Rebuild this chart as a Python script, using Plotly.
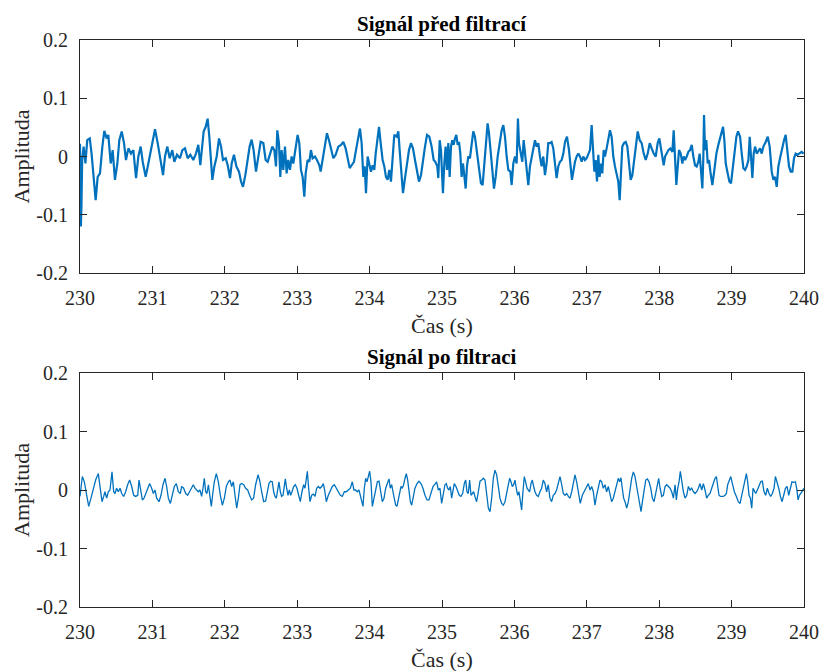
import plotly.graph_objects as go

# Raw signal: time (s) and amplitude
raw_t = [
    230.000, 230.006, 230.012, 230.020, 230.030, 230.050, 230.075, 230.100, 230.135, 230.160,
    230.184, 230.216, 230.244, 230.276, 230.309, 230.336, 230.368, 230.391, 230.424, 230.451,
    230.483, 230.516, 230.543, 230.576, 230.608, 230.635, 230.668, 230.704, 230.737, 230.774,
    230.806, 230.838, 230.866, 230.907, 230.944, 230.990, 231.036, 231.073, 231.110, 231.147,
    231.174, 231.206, 231.239, 231.275, 231.303, 231.340, 231.381, 231.414, 231.450, 231.487,
    231.524, 231.565, 231.602, 231.634, 231.662, 231.690, 231.708, 231.736, 231.763, 231.786,
    231.809, 231.828, 231.856, 231.888, 231.920, 231.948, 231.975, 232.012, 232.040, 232.072,
    232.095, 232.127, 232.160, 232.196, 232.224, 232.251, 232.284, 232.316, 232.343, 232.371,
    232.398, 232.431, 232.463, 232.495, 232.532,
    232.564, 232.592, 232.624, 232.656, 232.684, 232.707, 232.725, 232.748, 232.767, 232.785,
    232.808, 232.831, 232.854, 232.877, 232.900, 232.923, 232.946, 232.979, 233.006, 233.029,
    233.052, 233.075, 233.098, 233.117, 233.144, 233.167, 233.190, 233.213, 233.246, 233.273,
    233.306, 233.324, 233.352, 233.384, 233.411, 233.439, 233.467, 233.499, 233.531, 233.568,
    233.605, 233.637, 233.669, 233.697, 233.725, 233.752, 233.784, 233.812, 233.844, 233.867,
    233.890, 233.913, 233.932, 233.950, 233.973, 233.992, 234.019, 234.042, 234.065, 234.084,
    234.107, 234.130, 234.153, 234.180, 234.203, 234.226, 234.249, 234.272, 234.295, 234.318,
    234.341, 234.374, 234.397, 234.415, 234.443, 234.461, 234.489, 234.516, 234.544, 234.572,
    234.599, 234.627, 234.655, 234.682, 234.710, 234.737, 234.765, 234.793, 234.825, 234.857,
    234.885, 234.908, 234.935, 234.949, 234.968, 234.986, 235.013, 235.032,
    235.050, 235.069, 235.087, 235.106, 235.124, 235.142, 235.161, 235.179, 235.198, 235.216,
    235.235, 235.253, 235.271, 235.290, 235.308, 235.327, 235.345, 235.363, 235.386, 235.409,
    235.432, 235.455, 235.483, 235.511, 235.538, 235.561, 235.584, 235.607, 235.630, 235.649,
    235.672, 235.695, 235.718, 235.741, 235.769, 235.796, 235.824, 235.847, 235.870, 235.893,
    235.916, 235.944, 235.962, 235.985, 236.008, 236.031, 236.049, 236.063, 236.086, 236.109,
    236.128, 236.146, 236.174, 236.192, 236.215, 236.238, 236.261, 236.284, 236.307, 236.330,
    236.353, 236.376, 236.399, 236.422, 236.445, 236.468, 236.491, 236.514, 236.537, 236.560,
    236.583, 236.606, 236.630, 236.653, 236.676, 236.699, 236.726, 236.754, 236.777, 236.795,
    236.814, 236.837, 236.860, 236.883, 236.906, 236.929, 236.952, 236.975, 236.998, 237.021,
    237.044, 237.067, 237.085, 237.104, 237.122, 237.141, 237.159, 237.177, 237.196, 237.214,
    237.233, 237.251, 237.274, 237.297, 237.320, 237.343, 237.366, 237.389, 237.412, 237.435,
    237.454, 237.472, 237.490, 237.514,
    237.537, 237.560, 237.583, 237.606, 237.629, 237.657, 237.680, 237.703, 237.731, 237.758,
    237.786, 237.814, 237.841, 237.869, 237.896, 237.924, 237.952, 237.979, 238.002, 238.021,
    238.044, 238.062, 238.081, 238.104, 238.127, 238.154, 238.182, 238.200, 238.219, 238.237,
    238.256, 238.274, 238.297, 238.320, 238.338, 238.357, 238.380, 238.403, 238.426, 238.449,
    238.472, 238.495, 238.518, 238.541, 238.559, 238.578, 238.596, 238.610, 238.619, 238.633,
    238.651, 238.670, 238.688, 238.707, 238.734, 238.762, 238.790, 238.817, 238.845, 238.863,
    238.882, 238.900, 238.919, 238.946, 238.969, 238.992, 239.015, 239.038, 239.066, 239.089,
    239.117, 239.140, 239.163, 239.186, 239.209, 239.232, 239.250, 239.268, 239.287, 239.305,
    239.324, 239.347, 239.370, 239.393, 239.416, 239.439, 239.471, 239.499, 239.526, 239.554,
    239.577, 239.600, 239.623, 239.646, 239.674, 239.701, 239.724, 239.747, 239.770, 239.793,
    239.816, 239.839, 239.862, 239.885, 239.913, 239.941, 239.968, 239.996,
]
raw_v = [
    0.022, -0.070, -0.120, -0.085, -0.006, 0.017, -0.012, 0.028, 0.031, 0.005,
    -0.035, -0.075, -0.035, -0.029, 0.017, 0.044, 0.031, 0.037, -0.012, 0.011,
    -0.040, -0.012, 0.028, 0.043, 0.023, -0.006, 0.014, 0.005, 0.011, -0.037,
    0.000, 0.017, -0.009, -0.035, -0.012, 0.017, 0.047, 0.023, -0.006, -0.032,
    0.000, 0.017, -0.003, 0.011, -0.009, 0.003, -0.003, 0.011, 0.014, -0.003,
    0.003, -0.006, 0.005, 0.020, -0.015, 0.028, 0.043, 0.051, 0.065, 0.034,
    -0.017, -0.040, -0.017, 0.000, 0.031, 0.017, -0.006, -0.003, -0.015, -0.037,
    -0.012, 0.003, -0.017, -0.026, -0.043, -0.052, -0.032, -0.003, 0.017, 0.029,
    0.011, -0.026, -0.003, 0.025, 0.023,
    -0.006, -0.009, 0.005, 0.017, 0.011, -0.017, 0.045, 0.023, -0.035, 0.011,
    -0.023, 0.017, -0.029, -0.006, -0.023, 0.000, -0.012, 0.017, 0.037, 0.023,
    -0.023, -0.035, -0.069, -0.029, -0.006, -0.009, 0.011, -0.003, 0.000, -0.006,
    -0.015, -0.026, -0.003, 0.023, 0.040, 0.028, 0.011, -0.003, 0.003, 0.017,
    0.020, 0.025, 0.014, -0.003, -0.020, -0.015, -0.009, 0.011, 0.034, 0.048,
    0.023, -0.035, -0.017, -0.063, 0.000, -0.012, -0.026, -0.015, -0.023, 0.005,
    0.034, 0.051, 0.023, -0.006, -0.017, -0.035, -0.040, -0.023, -0.043, 0.005,
    0.037, 0.034, 0.043, 0.011, -0.035, -0.063, -0.037, -0.017, 0.011, 0.023,
    0.014, -0.006, -0.026, -0.043, -0.032, -0.006, 0.017, 0.037, 0.034, 0.017,
    -0.006, -0.009, -0.017, -0.037, 0.028, 0.011, -0.063, -0.012,
    0.017, -0.023, 0.023, -0.035, 0.017, 0.028, 0.020, 0.031, 0.037, 0.020,
    0.025, 0.005, -0.035, -0.012, -0.040, -0.055, -0.017, 0.000, -0.003, 0.017,
    0.043, 0.034, 0.005, -0.023, -0.046, -0.049, -0.017, 0.028, 0.057, 0.040,
    0.000, -0.023, -0.055, -0.035, 0.000, 0.023, 0.045, 0.054, 0.034, 0.000,
    -0.023, -0.026, -0.049, -0.012, 0.000, -0.012, 0.065, 0.023, 0.005, -0.009,
    0.028, 0.005, -0.026, -0.049, -0.017, -0.003, 0.017, 0.028, 0.017, 0.023,
    0.000, -0.017, 0.000, -0.032, -0.012, 0.023, 0.023, 0.025, 0.014, -0.015,
    -0.037, -0.017, -0.009, -0.006, 0.005, 0.025, 0.034, 0.011, -0.012, -0.040,
    -0.026, -0.009, 0.000, 0.005, 0.000, -0.009, 0.000, -0.006, -0.003, 0.003,
    0.011, 0.054, 0.005, -0.026, -0.006, -0.043, 0.003, -0.035, -0.012, -0.029,
    0.011, 0.000, 0.014, 0.034, 0.045, 0.034, 0.000, -0.017, -0.032, -0.043,
    -0.075, -0.017, 0.017, 0.023,
    0.025, 0.017, -0.017, -0.040, -0.032, -0.006, 0.023, 0.043, 0.028, 0.023,
    0.005, -0.006, 0.005, 0.023, 0.014, 0.005, 0.000, 0.023, 0.031, 0.014,
    0.000, -0.015, 0.000, 0.005, 0.011, 0.014, 0.008, 0.045, -0.017, -0.049,
    -0.017, 0.011, 0.005, -0.012, 0.000, -0.006, 0.000, 0.008, 0.011, 0.020,
    0.000, -0.015, -0.017, -0.009, 0.005, -0.023, -0.055, 0.000, 0.071, 0.011,
    0.028, -0.012, -0.006, -0.026, -0.049, -0.023, 0.005, 0.020, 0.034, 0.043,
    0.051, 0.028, -0.012, -0.029, -0.043, -0.046, -0.023, 0.005, 0.034, 0.043,
    0.034, 0.005, -0.020, -0.023, -0.017, -0.006, 0.034, 0.000, -0.037, 0.005,
    0.017, 0.005, 0.011, 0.014, 0.005, 0.017, 0.025, 0.034, 0.017, -0.026,
    -0.040, -0.035, -0.052, -0.017, 0.000, 0.017, 0.028, 0.037, 0.011, -0.017,
    -0.026, -0.026, -0.003, 0.005, 0.003, 0.005, 0.008, 0.005,
]

# Filtered signal: time (s) and amplitude
filt_t = [
    230.000, 230.032, 230.060, 230.088, 230.120, 230.152, 230.184, 230.216, 230.253, 230.281,
    230.304, 230.327, 230.345, 230.368, 230.391, 230.414, 230.442, 230.465, 230.483, 230.506,
    230.529, 230.553, 230.576, 230.603, 230.631, 230.658, 230.686, 230.714, 230.741, 230.769,
    230.797, 230.815, 230.838, 230.861, 230.884, 230.907, 230.935, 230.962, 230.990, 231.013,
    231.036, 231.059, 231.091, 231.119, 231.146, 231.174, 231.197, 231.220, 231.248, 231.275,
    231.303, 231.331, 231.358, 231.386, 231.404, 231.432, 231.460, 231.487, 231.515, 231.542,
    231.565, 231.588, 231.611, 231.634, 231.657, 231.680, 231.699, 231.717, 231.736, 231.754,
    231.773, 231.791, 231.814, 231.837, 231.855, 231.883, 231.911, 231.938, 231.966, 231.994,
    232.021, 232.049, 232.072, 232.095, 232.118, 232.141, 232.164, 232.187, 232.210, 232.233,
    232.261, 232.288, 232.316, 232.343, 232.371, 232.398, 232.426, 232.459, 232.481, 232.509,
    232.537,
    232.564, 232.592, 232.610, 232.633, 232.656, 232.675, 232.693, 232.712, 232.730, 232.748,
    232.767, 232.785, 232.804, 232.822, 232.836, 232.854, 232.873, 232.891, 232.910, 232.928,
    232.951, 232.974, 232.997, 233.020, 233.043, 233.066, 233.089, 233.108, 233.126, 233.140,
    233.158, 233.177, 233.200, 233.223, 233.246, 233.269, 233.292, 233.315, 233.338, 233.361,
    233.379, 233.402, 233.430, 233.458, 233.485, 233.513, 233.540, 233.568, 233.596, 233.623,
    233.651, 233.679, 233.706, 233.734, 233.761, 233.784, 233.807, 233.830, 233.853, 233.872,
    233.890, 233.909, 233.927, 233.946, 233.964, 233.983, 234.001, 234.019, 234.038, 234.061,
    234.084, 234.107, 234.130, 234.153, 234.176, 234.199, 234.222, 234.245, 234.268, 234.286,
    234.305, 234.323, 234.341, 234.360, 234.378, 234.397, 234.415, 234.434, 234.452, 234.470,
    234.489, 234.507, 234.526, 234.544, 234.563, 234.581, 234.604, 234.627, 234.655, 234.682,
    234.710, 234.737, 234.765, 234.793, 234.820, 234.848, 234.876, 234.903, 234.926, 234.949,
    234.972, 234.995, 235.018,
    235.041, 235.060, 235.078, 235.096, 235.115, 235.133, 235.152, 235.170, 235.193, 235.216,
    235.239, 235.262, 235.285, 235.308, 235.327, 235.345, 235.363, 235.382, 235.400, 235.419,
    235.437, 235.455, 235.478, 235.502, 235.525, 235.548, 235.571, 235.594, 235.617, 235.640,
    235.663, 235.686, 235.709, 235.732, 235.755, 235.778, 235.801, 235.824, 235.847, 235.870,
    235.893, 235.916, 235.934, 235.953, 235.971, 235.990, 236.008, 236.026, 236.045, 236.063,
    236.082, 236.100, 236.118, 236.137, 236.155, 236.174, 236.192, 236.211, 236.229, 236.247,
    236.266, 236.284, 236.307, 236.330, 236.353, 236.376, 236.399, 236.422, 236.445, 236.468,
    236.491, 236.514, 236.537, 236.560, 236.583, 236.606, 236.630, 236.653, 236.676, 236.699,
    236.722, 236.745, 236.768, 236.791, 236.814, 236.837, 236.860, 236.883, 236.910, 236.938,
    236.966, 236.993, 237.021, 237.044, 237.067, 237.090, 237.113, 237.136, 237.159, 237.182,
    237.205, 237.228, 237.251, 237.274, 237.297, 237.320, 237.343, 237.366, 237.389, 237.412,
    237.435, 237.454, 237.472, 237.490, 237.509,
    237.528, 237.551, 237.574, 237.597, 237.620, 237.643, 237.666, 237.689, 237.712, 237.735,
    237.749, 237.768, 237.791, 237.814, 237.837, 237.860, 237.883, 237.906, 237.929, 237.952,
    237.975, 237.993, 238.012, 238.035, 238.058, 238.081, 238.104, 238.127, 238.150, 238.173,
    238.196, 238.219, 238.237, 238.256, 238.274, 238.292, 238.311, 238.334, 238.357, 238.380,
    238.403, 238.426, 238.449, 238.472, 238.495, 238.518, 238.541, 238.564, 238.587, 238.610,
    238.633, 238.656, 238.679, 238.702, 238.725, 238.748, 238.771, 238.790, 238.808, 238.826,
    238.845, 238.863, 238.886, 238.909, 238.928, 238.946, 238.965, 238.988, 239.011, 239.038,
    239.066, 239.093, 239.117, 239.140, 239.163, 239.186, 239.204, 239.222, 239.241, 239.259,
    239.278, 239.296, 239.314, 239.333, 239.356, 239.379, 239.402, 239.425, 239.448, 239.471,
    239.494, 239.517, 239.540, 239.563, 239.586, 239.605, 239.628, 239.651, 239.674, 239.697,
    239.720, 239.743, 239.766, 239.789, 239.812, 239.834, 239.858, 239.881, 239.899, 239.918,
    239.936, 239.954, 239.973, 239.996,
]
filt_v = [
    -0.011, 0.023, 0.014, -0.009, -0.028, -0.014, 0.003, 0.017, 0.028, 0.003,
    -0.020, -0.011, -0.003, -0.014, -0.003, 0.000, 0.031, -0.003, -0.006, 0.003,
    -0.003, 0.003, -0.006, -0.011, -0.003, 0.009, 0.017, 0.006, -0.009, -0.011,
    -0.009, 0.017, 0.003, -0.017, -0.014, -0.006, 0.003, 0.011, 0.003, -0.006,
    0.000, -0.014, -0.020, -0.009, 0.009, 0.020, 0.006, -0.014, -0.023, -0.009,
    0.006, 0.011, -0.003, -0.006, 0.006, 0.003, -0.006, -0.009, -0.003, 0.003,
    0.009, 0.003, 0.000, -0.003, 0.000, -0.011, 0.003, 0.020, -0.003, -0.006,
    0.009, -0.011, -0.028, -0.003, 0.014, 0.028, 0.014, -0.009, -0.026, -0.014,
    0.006, 0.014, 0.017, 0.006, 0.014, -0.009, -0.031, -0.014, 0.009, 0.011,
    0.009, 0.003, 0.000, -0.009, -0.017, -0.014, 0.009, 0.026, 0.017, -0.003,
    -0.020,
    -0.019, -0.003, 0.011, 0.015, 0.014, -0.003, -0.011, -0.014, -0.003, 0.014,
    -0.003, -0.011, -0.009, 0.011, 0.019, 0.003, -0.009, 0.000, -0.009, -0.003,
    0.006, 0.009, 0.003, -0.009, -0.020, -0.003, 0.009, 0.003, 0.020, 0.032,
    0.003, -0.020, -0.009, -0.007, -0.011, 0.003, 0.006, 0.003, 0.006, 0.011,
    0.000, -0.020, -0.009, 0.000, 0.006, 0.009, 0.003, -0.003, -0.009, -0.011,
    -0.003, -0.003, 0.000, 0.003, 0.014, 0.000, 0.000, -0.003, 0.000, -0.009,
    -0.017, -0.028, 0.003, 0.020, 0.014, 0.026, 0.032, 0.014, -0.028, -0.014,
    0.003, 0.014, 0.015, -0.003, -0.020, -0.014, 0.003, 0.011, 0.019, 0.003,
    0.009, -0.003, -0.014, -0.026, -0.028, -0.014, -0.003, 0.006, 0.003, 0.009,
    0.020, 0.028, 0.017, -0.003, -0.020, -0.026, -0.014, 0.003, 0.011, 0.015,
    0.011, 0.003, -0.009, -0.017, -0.017, -0.006, 0.006, 0.010, 0.014, 0.000,
    0.003, -0.023, -0.003,
    0.009, 0.011, 0.003, 0.000, 0.006, -0.014, 0.003, 0.011, 0.006, -0.003,
    -0.009, -0.011, -0.006, 0.011, 0.017, -0.003, -0.006, 0.017, -0.009, -0.006,
    -0.003, -0.011, -0.020, -0.003, 0.015, 0.017, 0.020, 0.017, -0.009, -0.031,
    -0.037, -0.014, 0.020, 0.034, 0.026, 0.003, -0.014, -0.023, -0.026, -0.020,
    -0.003, 0.014, 0.020, 0.014, 0.006, 0.009, 0.017, 0.003, -0.009, -0.003,
    -0.020, -0.034, -0.003, 0.023, 0.014, 0.003, 0.000, -0.003, 0.011, 0.017,
    0.006, -0.003, -0.009, -0.011, -0.003, 0.003, 0.017, 0.011, -0.003, 0.009,
    -0.014, -0.020, -0.009, -0.006, 0.000, 0.014, 0.023, 0.009, -0.006, -0.009,
    -0.006, -0.011, -0.014, -0.003, 0.014, 0.026, 0.014, -0.003, -0.023, -0.009,
    -0.003, 0.003, 0.011, 0.000, 0.006, -0.003, -0.026, -0.009, 0.006, 0.017,
    0.014, 0.003, 0.009, -0.003, 0.006, -0.009, -0.020, -0.014, -0.003, 0.009,
    0.020, 0.014, 0.021, 0.003, -0.014,
    -0.020, -0.031, -0.020, 0.003, 0.020, 0.031, 0.023, 0.006, -0.009, -0.026,
    -0.037, -0.020, 0.003, 0.017, 0.019, 0.014, 0.003, -0.014, -0.020, -0.003,
    0.009, 0.020, 0.003, -0.011, -0.009, 0.006, 0.009, 0.006, 0.003, -0.003,
    -0.014, 0.009, -0.017, 0.003, 0.014, 0.032, 0.014, -0.003, -0.014, -0.009,
    0.006, 0.000, 0.003, -0.003, -0.006, -0.003, 0.003, 0.011, 0.000, 0.011,
    0.000, -0.014, -0.009, -0.006, 0.003, 0.014, 0.020, 0.023, 0.009, -0.009,
    -0.011, -0.011, -0.011, -0.009, -0.006, 0.009, 0.017, 0.023, 0.011, -0.003,
    -0.011, -0.020, -0.023, -0.009, 0.003, 0.020, 0.028, 0.014, -0.009, -0.014,
    -0.031, 0.003, -0.003, -0.006, 0.000, 0.009, 0.014, 0.015, -0.003, -0.009,
    0.003, -0.006, -0.011, -0.006, 0.003, 0.023, 0.014, 0.003, -0.011, -0.020,
    -0.009, 0.003, 0.006, -0.009, 0.003, 0.014, 0.013, 0.014, 0.003, -0.017,
    -0.009, -0.006, -0.003, 0.003,
]

x_ticks = list(range(230, 241))
x_ticktext = [str(v) for v in x_ticks]
y_ticks = [-0.2, -0.1, 0, 0.1, 0.2]
y_ticktext = ["-0.2", "-0.1", "0", "0.1", "0.2"]

titles = ["Signál před filtrací", "Signál po filtraci"]
x_label = "Čas (s)"
y_label = "Amplituda"

W, H = 822, 671
LINE = "#0072BD"
AXC = "#262626"
FONT = "Liberation Serif, Times New Roman, serif"

# panel boxes in pixels: (left, right, top, bottom)
boxes = [(80, 804, 40, 273), (80, 804, 373, 607)]


def px_x(p):
    return p / W


def px_y(p):
    return 1 - p / H


fig = go.Figure()
fig.add_trace(go.Scatter(x=raw_t, y=raw_v, mode="lines",
                         line=dict(color=LINE, width=2.2),
                         xaxis="x", yaxis="y", showlegend=False))
fig.add_trace(go.Scatter(x=filt_t, y=filt_v, mode="lines",
                         line=dict(color=LINE, width=1.3),
                         xaxis="x2", yaxis="y2", showlegend=False))

axis_common = dict(showline=True, linecolor=AXC, linewidth=1, mirror="allticks",
                   ticks="inside", ticklen=7, tickwidth=1, tickcolor=AXC,
                   showgrid=False, zeroline=False, automargin=False,
                   tickfont=dict(family=FONT, size=20, color=AXC))

layout = dict(template="none", width=W, height=H, margin=dict(l=0, r=0, t=0, b=0),
              paper_bgcolor="white", plot_bgcolor="white", showlegend=False,
              font=dict(family=FONT, color=AXC))

annotations = []
for i, (l, r, t, b) in enumerate(boxes):
    sx = "" if i == 0 else str(i + 1)
    layout["xaxis" + sx] = dict(axis_common, domain=[px_x(l), px_x(r)], range=[230, 240],
                                tickvals=x_ticks, ticktext=x_ticktext,
                                ticklabelstandoff=7, anchor="y" + sx)
    layout["yaxis" + sx] = dict(axis_common, domain=[px_y(b), px_y(t)], range=[-0.2, 0.2],
                                tickvals=y_ticks, ticktext=y_ticktext,
                                ticklabelstandoff=7, anchor="x" + sx)
    cx = (l + r) / 2
    annotations.append(dict(text="<b>" + titles[i] + "</b>", x=px_x(cx), y=px_y(t - 16),
                            xref="paper", yref="paper", showarrow=False,
                            xanchor="center", yanchor="middle",
                            font=dict(family=FONT, size=21, color="black")))
    annotations.append(dict(text=x_label, x=px_x(cx), y=px_y(b + 52),
                            xref="paper", yref="paper", showarrow=False,
                            xanchor="center", yanchor="middle",
                            font=dict(family=FONT, size=22, color=AXC)))
    annotations.append(dict(text=y_label, x=px_x(21), y=px_y((t + b) / 2),
                            xref="paper", yref="paper", showarrow=False, textangle=-90,
                            xanchor="center", yanchor="middle",
                            font=dict(family=FONT, size=22, color=AXC)))

layout["annotations"] = annotations
fig.update_layout(**layout)
fig.write_html("out.html")
